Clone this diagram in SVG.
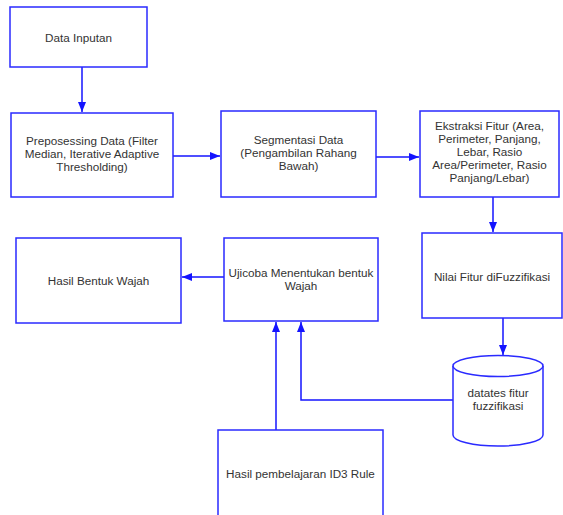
<svg xmlns="http://www.w3.org/2000/svg" width="563" height="515" viewBox="0 0 563 515">
<style>
.box{fill:#fff;stroke:#2a2aff;stroke-width:1.5}
.t{font-family:"Liberation Sans",Arial,sans-serif;font-size:11.7px;fill:#333;text-anchor:middle}
.c{fill:none;stroke:#1414ff;stroke-width:1.5}
</style>
<defs>
<marker id="ah" viewBox="0 0 10 8" refX="10" refY="4" markerWidth="10" markerHeight="8" markerUnits="userSpaceOnUse" orient="auto">
<path d="M0,0 L10,4 L0,8 Z" fill="#1414ff"/>
</marker>
</defs>
<rect width="563" height="515" fill="#fff"/>
<g id="connectors">
<path class="c" d="M82,67 V112" marker-end="url(#ah)"/>
<path class="c" d="M173,156 H220" marker-end="url(#ah)"/>
<path class="c" d="M376,157 H419" marker-end="url(#ah)"/>
<path class="c" d="M493,197 V232" marker-end="url(#ah)"/>
<path class="c" d="M503,318 V355" marker-end="url(#ah)"/>
<path class="c" d="M224,277 H182" marker-end="url(#ah)"/>
<path class="c" d="M276,430 V322" marker-end="url(#ah)"/>
<path class="c" d="M453,400 H301 V322" marker-end="url(#ah)"/>
</g>
<g id="n1"><rect class="box" x="10" y="7" width="137" height="60"/><text class="t" x="78.5" y="42">Data Inputan</text></g>
<g id="n2"><rect class="box" x="11" y="113" width="162" height="84"/><text class="t" x="92" y="145"><tspan x="92">Preposessing Data (Filter</tspan><tspan x="92" dy="13">Median, Iterative Adaptive</tspan><tspan x="92" dy="13">Thresholding)</tspan></text></g>
<g id="n3"><rect class="box" x="221" y="111" width="155" height="86"/><text class="t" x="298.5" y="144"><tspan x="298.5">Segmentasi Data</tspan><tspan x="298.5" dy="13">(Pengambilan Rahang</tspan><tspan x="298.5" dy="13">Bawah)</tspan></text></g>
<g id="n4"><rect class="box" x="420" y="111" width="139" height="86"/><text class="t" x="489.5" y="130"><tspan x="489.5">Ekstraksi Fitur (Area,</tspan><tspan x="489.5" dy="13">Perimeter, Panjang,</tspan><tspan x="489.5" dy="13">Lebar, Rasio</tspan><tspan x="489.5" dy="13">Area/Perimeter, Rasio</tspan><tspan x="489.5" dy="13">Panjang/Lebar)</tspan></text></g>
<g id="n5"><rect class="box" x="422" y="233" width="140" height="85"/><text class="t" x="492" y="281">Nilai Fitur diFuzzifikasi</text></g>
<g id="n6"><path class="box" d="M453,366 V435 A45,11 0 0 0 543,435 V366"/><ellipse class="box" cx="498" cy="366" rx="45" ry="10.5"/><text class="t" x="498" y="397"><tspan x="498">datates fitur</tspan><tspan x="498" dy="13">fuzzifikasi</tspan></text></g>
<g id="n7"><rect class="box" x="224" y="238" width="154" height="83"/><text class="t" x="301" y="277"><tspan x="301">Ujicoba Menentukan bentuk</tspan><tspan x="301" dy="13">Wajah</tspan></text></g>
<g id="n8"><rect class="box" x="16" y="238" width="165" height="85"/><text class="t" x="98.5" y="285">Hasil Bentuk Wajah</text></g>
<g id="n9"><rect class="box" x="218" y="430" width="165" height="95"/><text class="t" x="300.5" y="478">Hasil pembelajaran ID3 Rule</text></g>
</svg>
